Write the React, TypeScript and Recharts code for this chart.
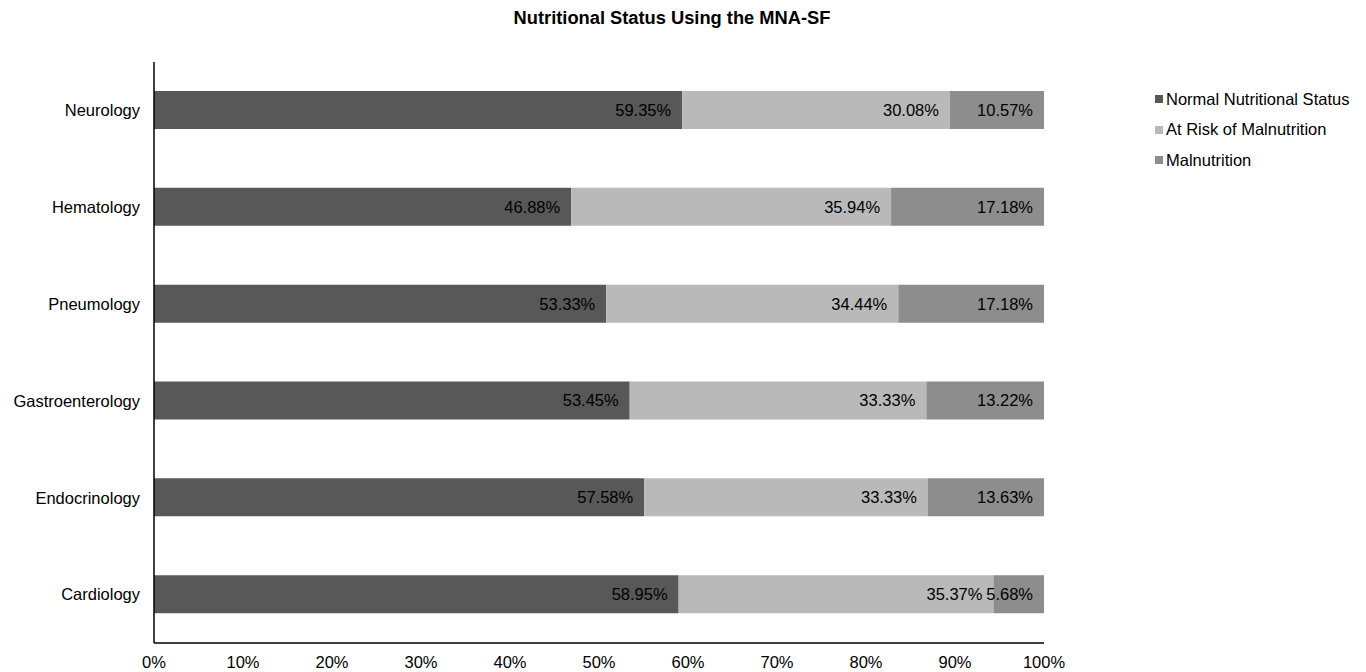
import { Bar, BarChart, LabelList, XAxis, YAxis } from "recharts";

const departments = ["Neurology", "Hematology", "Pneumology", "Gastroenterology", "Endocrinology", "Cardiology"];
const normalStatus = [59.35, 46.88, 53.33, 53.45, 57.58, 58.95];
const atRisk = [30.08, 35.94, 34.44, 33.33, 33.33, 35.37];
const malnutrition = [10.57, 17.18, 17.18, 13.22, 13.63, 5.68];
const xTicks = [0, 0.1, 0.2, 0.3, 0.4, 0.5, 0.6, 0.7, 0.8, 0.9, 1];

const series = [
  { key: "normal", name: "Normal Nutritional Status", color: "#585858" },
  { key: "risk", name: "At Risk of Malnutrition", color: "#b9b9b9" },
  { key: "mal", name: "Malnutrition", color: "#8d8d8d" },
];

const data = departments.map((dept, i) => ({
  dept,
  normal: normalStatus[i],
  risk: atRisk[i],
  mal: malnutrition[i],
}));

const font = "'Liberation Sans', Arial, sans-serif";
const fs = 16.5;

export default function App() {
  return (
    <div style={{ position: "absolute", left: 0, top: 0, width: 1366, height: 672, background: "#fff" }}>
      <div
        style={{
          position: "absolute",
          left: 422,
          top: 7,
          width: 500,
          textAlign: "center",
          fontFamily: font,
          fontWeight: "bold",
          fontSize: 18.3,
          color: "#000",
        }}
      >
        Nutritional Status Using the MNA-SF
      </div>
      <div style={{ position: "absolute", left: 1155, top: 84, fontFamily: font, fontSize: fs, color: "#000" }}>
        {series.map((s) => (
          <div key={s.key} style={{ display: "flex", alignItems: "center", height: 30.5 }}>
            <span style={{ width: 8, height: 8, background: s.color, marginRight: 3, display: "inline-block" }} />
            {s.name}
          </div>
        ))}
      </div>
      <BarChart
        width={1366}
        height={672}
        data={data}
        layout="vertical"
        stackOffset="expand"
        margin={{ top: 62, right: 322, bottom: 0, left: 0 }}
      >
        <XAxis
          type="number"
          domain={[0, 1]}
          ticks={xTicks}
          tickFormatter={(v) => `${Math.round(v * 100)}%`}
          height={29}
          tickLine={false}
          tickSize={0}
          tickMargin={13}
          axisLine={{ stroke: "#000", strokeWidth: 1.5 }}
          tick={{ fill: "#000", fontSize: fs, fontFamily: font }}
          interval={0}
        />
        <YAxis
          type="category"
          dataKey="dept"
          width={154}
          tickLine={false}
          tickSize={0}
          tickMargin={14}
          axisLine={{ stroke: "#000", strokeWidth: 1.5 }}
          tick={{ fill: "#000", fontSize: fs, fontFamily: font }}
        />
        {series.map((s) => (
          <Bar key={s.key} dataKey={s.key} name={s.name} stackId="a" fill={s.color} barSize={38} isAnimationActive={false}>
            <LabelList
              dataKey={s.key}
              position="insideRight"
              offset={11}
              formatter={(v: number) => `${v.toFixed(2)}%`}
              style={{ fill: "#000", fontSize: fs, fontFamily: font }}
            />
          </Bar>
        ))}
      </BarChart>
    </div>
  );
}
